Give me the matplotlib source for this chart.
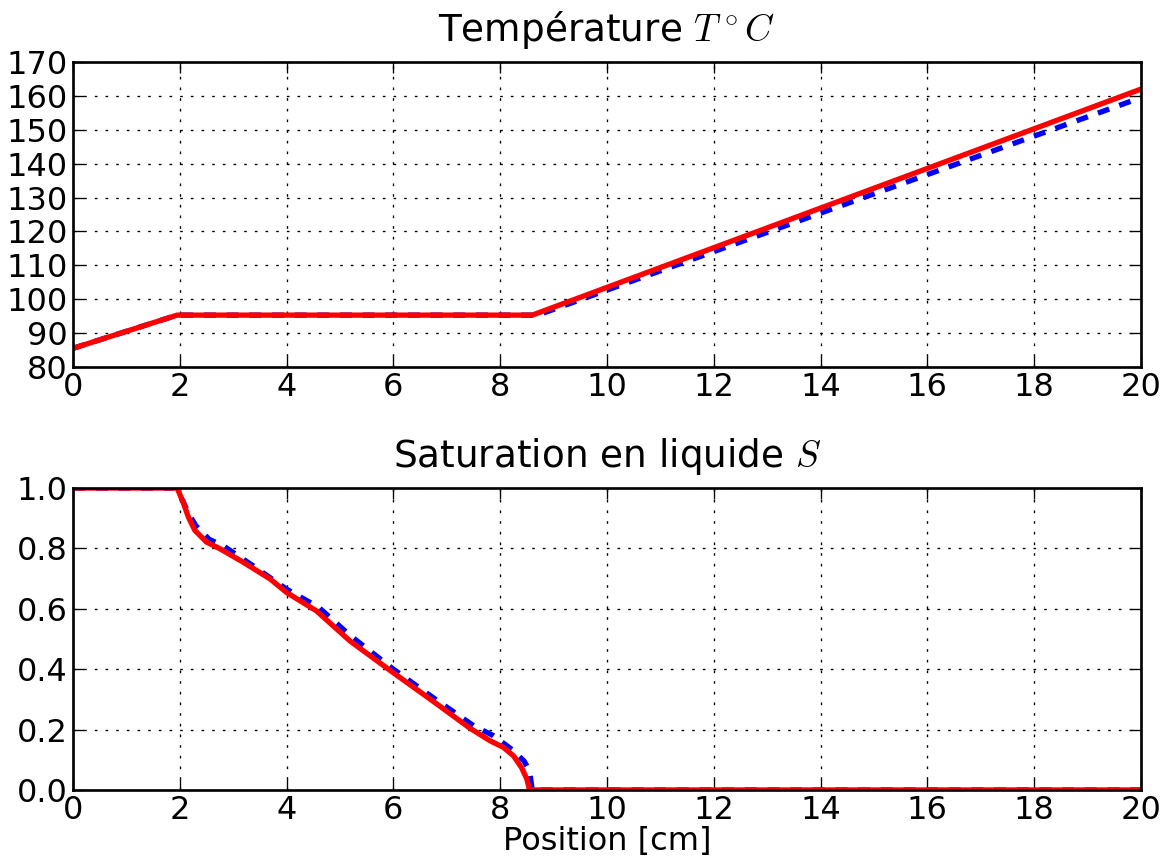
import matplotlib
matplotlib.use("Agg")
import matplotlib.pyplot as plt

# Temperature data
xT_red = [0.0, 1.95, 8.6, 20.0]
T_red = [85.5, 95.3, 95.3, 162.0]
xT_blue = [0.0, 1.95, 8.7, 20.0]
T_blue = [85.5, 95.3, 95.3, 159.5]

# Saturation data
xS_red = [0.0, 1.95, 2.07, 2.16, 2.28, 2.5, 2.75, 3.19, 3.69, 4.0, 4.56, 5.19, 6.0,
          6.75, 7.43, 7.81, 8.06, 8.25, 8.40, 8.50, 8.55, 20.0]
S_red = [1.0, 1.0, 0.949, 0.904, 0.86, 0.821, 0.799, 0.754, 0.699, 0.654, 0.593, 0.493, 0.388,
         0.293, 0.205, 0.163, 0.141, 0.113, 0.074, 0.036, 0.0, 0.0]
xS_blue = [0.0, 1.9, 2.05, 2.15, 2.3, 2.55, 2.8, 3.35, 4.0, 4.6, 5.2, 6.0, 6.75,
           7.5, 7.87, 8.25, 8.45, 8.55, 8.6, 20.0]
S_blue = [1.0, 1.0, 0.96, 0.92, 0.875, 0.83, 0.81, 0.745, 0.665, 0.605, 0.51, 0.40, 0.305,
          0.213, 0.18, 0.13, 0.095, 0.063, 0.0, 0.0]

xticks = [0, 2, 4, 6, 8, 10, 12, 14, 16, 18, 20]
T_ticks = [80, 90, 100, 110, 120, 130, 140, 150, 160, 170]
S_ticks = [0.0, 0.2, 0.4, 0.6, 0.8, 1.0]

plt.rcParams['mathtext.fontset'] = 'cm'
plt.rcParams['font.family'] = 'DejaVu Sans'
plt.rcParams['lines.scale_dashes'] = False
plt.rcParams['xtick.direction'] = 'in'
plt.rcParams['ytick.direction'] = 'in'
plt.rcParams['xtick.top'] = True
plt.rcParams['ytick.right'] = True

DPI = 192
fig = plt.figure(figsize=(1163 / DPI, 858 / DPI), dpi=DPI, facecolor='white')
ax1 = fig.add_axes([0.0628, 0.5723, 0.981 - 0.0628, 0.9277 - 0.5723])
ax2 = fig.add_axes([0.0628, 0.0793, 0.981 - 0.0628, 0.4312 - 0.0793])

ax1.plot(xT_blue, T_blue, color='blue', lw=2, linestyle=(0, (4.5, 4)))
ax1.plot(xT_red, T_red, color='red', lw=2)
ax1.set_xlim(0, 20)
ax1.set_ylim(80, 170)
ax1.set_xticks(xticks)
ax1.set_yticks(T_ticks)
ax1.set_title(r"Température $T^\circ C$", fontsize=14, pad=8)

ax2.plot(xS_blue, S_blue, color='blue', lw=2, linestyle=(0, (4.5, 4)))
ax2.plot(xS_red, S_red, color='red', lw=2)
ax2.set_xlim(0, 20)
ax2.set_ylim(0, 1)
ax2.set_xticks(xticks)
ax2.set_yticks(S_ticks)
ax2.set_yticklabels([f"{v:.1f}" for v in S_ticks])
ax2.set_title(r"Saturation en liquide $S$", fontsize=14, pad=8)
ax2.set_xlabel("Position [cm]", fontsize=12, labelpad=0)

for ax in (ax1, ax2):
    ax.grid(True, color='black', linestyle=(0, (1, 3)), linewidth=0.5)
    ax.tick_params(labelsize=12, length=4, width=0.5, pad=2)
    for sp in ax.spines.values():
        sp.set_linewidth(1.0)

fig.savefig("out.png", dpi=DPI, facecolor='white')
